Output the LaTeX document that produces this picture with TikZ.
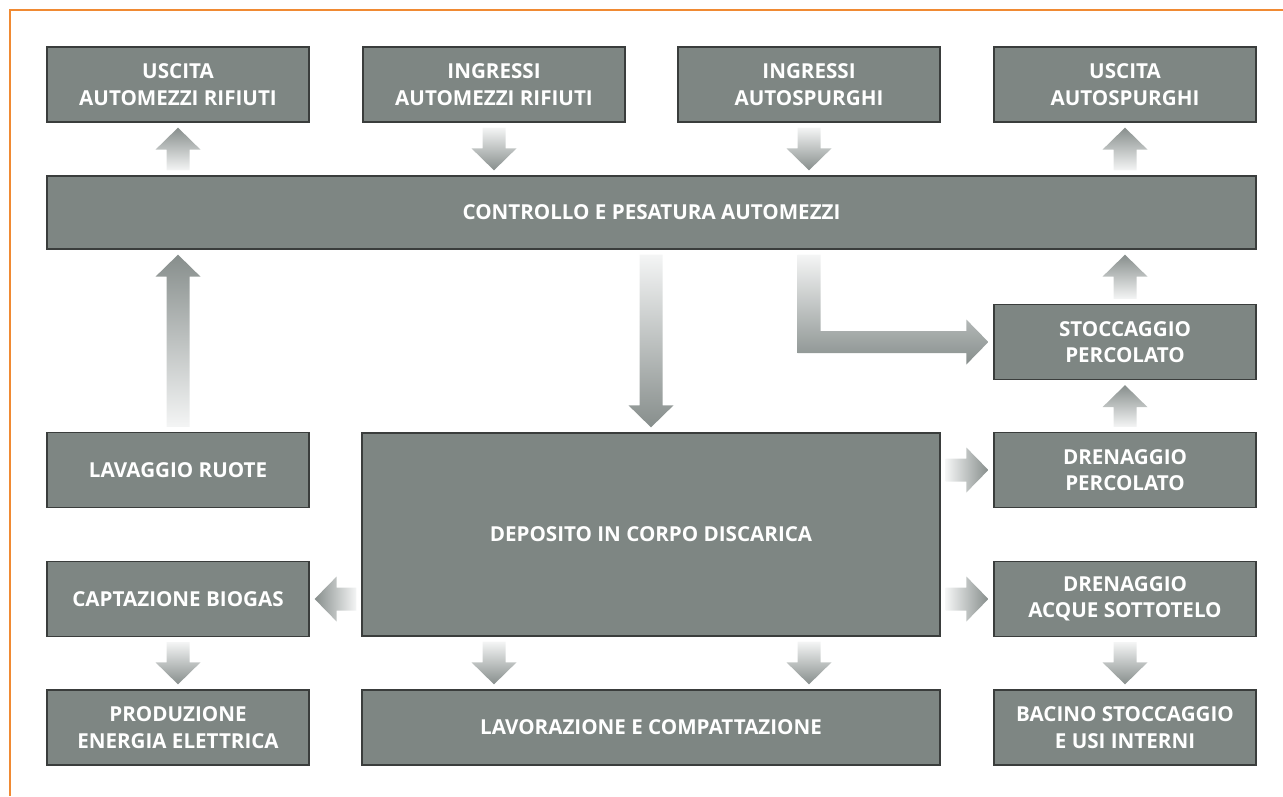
\documentclass[tikz,border=0pt]{standalone}
\usepackage{fontspec}
\setmainfont{Open Sans}
\usetikzlibrary{calc}

\definecolor{boxgrey}{HTML}{7E8683}
\definecolor{boxline}{HTML}{3A3D3C}
\definecolor{arrdark}{HTML}{878E8C}
\definecolor{arrlight}{HTML}{F4F5F5}
\definecolor{frameorange}{HTML}{F08A33}

% fette Pfeile: #1 Anfang, #2 Spitze (Knotenanker)
\newcommand{\arrup}[2]{%
  \shade[top color=arrdark, bottom color=arrlight]
    let \p1=#1, \p2=#2 in
    (\x1-11.5pt,\y1+5pt) -- (\x1+11.5pt,\y1+5pt) -- (\x1+11.5pt,\y2-27pt)
    -- (\x1+22.5pt,\y2-27pt) -- (\x1,\y2-5pt) -- (\x1-22.5pt,\y2-27pt)
    -- (\x1-11.5pt,\y2-27pt) -- cycle;}
\newcommand{\arrdown}[2]{%
  \shade[top color=arrlight, bottom color=arrdark]
    let \p1=#1, \p2=#2 in
    (\x1-11.5pt,\y1-5pt) -- (\x1+11.5pt,\y1-5pt) -- (\x1+11.5pt,\y2+27pt)
    -- (\x1+22.5pt,\y2+27pt) -- (\x1,\y2+5pt) -- (\x1-22.5pt,\y2+27pt)
    -- (\x1-11.5pt,\y2+27pt) -- cycle;}
\newcommand{\arrright}[2]{%
  \shade[left color=arrlight, right color=arrdark]
    let \p1=#1, \p2=#2 in
    (\x1+5pt,\y2-11.5pt) -- (\x1+5pt,\y2+11.5pt) -- (\x2-27pt,\y2+11.5pt)
    -- (\x2-27pt,\y2+22.5pt) -- (\x2-5pt,\y2) -- (\x2-27pt,\y2-22.5pt)
    -- (\x2-27pt,\y2-11.5pt) -- cycle;}
\newcommand{\arrleft}[2]{%
  \shade[left color=arrdark, right color=arrlight]
    let \p1=#1, \p2=#2 in
    (\x1-5pt,\y2-11.5pt) -- (\x1-5pt,\y2+11.5pt) -- (\x2+27pt,\y2+11.5pt)
    -- (\x2+27pt,\y2+22.5pt) -- (\x2+5pt,\y2) -- (\x2+27pt,\y2-22.5pt)
    -- (\x2+27pt,\y2-11.5pt) -- cycle;}

\begin{document}
\begin{tikzpicture}[x=1pt, y=-1pt,
    box/.style={draw=boxline, fill=boxgrey, line width=1.3pt, text=white,
      font=\fontsize{20.6}{26.5}\selectfont\bfseries, align=center,
      minimum width=262pt, minimum height=75pt, inner sep=0pt},
    widebox/.style={box, minimum width=578pt}]
  \useasboundingbox (0,0) rectangle (1283,796);
  % Rahmen
  \draw[frameorange, line width=2pt] (10,796) -- (10,10) -- (1283,10);

  % obere Reihe
  \node[box] (uscitaRif) at (178,84.5) {USCITA\\AUTOMEZZI RIFIUTI};
  \node[box] (ingrRif) at (494,84.5) {INGRESSI\\AUTOMEZZI RIFIUTI};
  \node[box] (ingrSpu) at (809,84.5) {INGRESSI\\AUTOSPURGHI};
  \node[box] (uscitaSpu) at (1125,84.5) {USCITA\\AUTOSPURGHI};
  \node[box, minimum width=1209pt, minimum height=73pt] (controllo) at (651.5,212.5)
    {CONTROLLO E PESATURA AUTOMEZZI};

  % mittlere Reihen
  \node[box] (stoccaggio) at (1125,342) {STOCCAGGIO\\PERCOLATO};
  \node[box] (lavaggio) at (178,470) {LAVAGGIO RUOTE};
  \node[widebox, minimum height=203pt] (deposito) at (651,534.5) {DEPOSITO IN CORPO DISCARICA};
  \node[box] (drenPerc) at (1125,470) {DRENAGGIO\\PERCOLATO};
  \node[box] (captazione) at (178,599) {CAPTAZIONE BIOGAS};
  \node[box] (drenAcque) at (1125,599) {DRENAGGIO\\ACQUE SOTTOTELO};

  % untere Reihe
  \node[box] (produzione) at (178,727.5) {PRODUZIONE\\ENERGIA ELETTRICA};
  \node[widebox] (lavorazione) at (651,727.5) {LAVORAZIONE E COMPATTAZIONE};
  \node[box] (bacino) at (1125,727.5) {BACINO STOCCAGGIO\\E USI INTERNI};

  % Pfeile oben
  \arrup{(controllo.north -| uscitaRif)}{(uscitaRif.south)}
  \arrdown{(ingrRif.south)}{(controllo.north -| ingrRif)}
  \arrdown{(ingrSpu.south)}{(controllo.north -| ingrSpu)}
  \arrup{(controllo.north -| uscitaSpu)}{(uscitaSpu.south)}

  % Pfeile Mitte
  \arrup{(lavaggio.north)}{(controllo.south -| lavaggio)}
  \arrdown{(controllo.south -| deposito)}{(deposito.north)}
  \arrup{(stoccaggio.north)}{(controllo.south -| stoccaggio)}
  \arrup{(drenPerc.north)}{(stoccaggio.south)}
  % Knickpfeil zum Stoccaggio
  \shade[top color=arrlight, bottom color=arrdark]
    let \p1=(controllo.south -| ingrSpu), \p2=(stoccaggio.west) in
    (\x1-11.5pt,\y1-5pt) -- (\x1+11.5pt,\y1-5pt) -- (\x1+11.5pt,\y2+11pt)
    -- (\x2-27pt,\y2+11pt) -- (\x2-27pt,\y2+22.5pt) -- (\x2-5pt,\y2)
    -- (\x2-27pt,\y2-22.5pt) -- (\x2-27pt,\y2-11pt) -- (\x1-11.5pt,\y2-11pt) -- cycle;

  % Pfeile aus dem Deposito
  \arrright{(deposito.east)}{(drenPerc.west)}
  \arrright{(deposito.east)}{(drenAcque.west)}
  \arrleft{(deposito.west)}{(captazione.east)}
  \arrdown{(deposito.south -| ingrRif)}{(lavorazione.north -| ingrRif)}
  \arrdown{(deposito.south -| ingrSpu)}{(lavorazione.north -| ingrSpu)}

  % Pfeile unten
  \arrdown{(captazione.south)}{(produzione.north)}
  \arrdown{(drenAcque.south)}{(bacino.north)}
\end{tikzpicture}
\end{document}
